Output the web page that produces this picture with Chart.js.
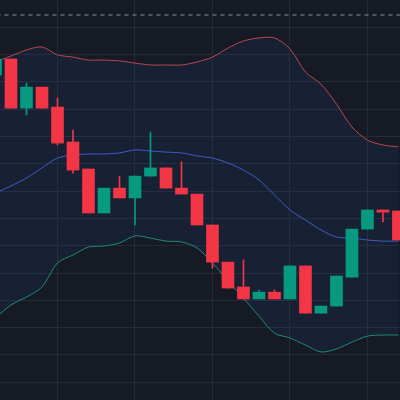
<!DOCTYPE html>
<html>
<head>
<meta charset="utf-8">
<script src="https://cdn.jsdelivr.net/npm/chart.js@4"></script>
<style>
  html, body { margin: 0; padding: 0; background: #161a25; }
  #wrap { width: 400px; height: 400px; }
</style>
</head>
<body>
<div id="wrap"><canvas id="chart"></canvas></div>
<script>
// candle values, one per bar
const opens  = [212.5, 218.4, 200.4, 208.1, 200.8, 188.0, 178.1, 162.0, 171.1, 167.5, 175.5, 178.5, 171.1, 168.9, 157.6, 144.0, 134.9, 130.5, 133.0, 130.5, 142.6, 125.3, 127.9, 138.5, 156.1, 163.1, 162.7]
const highs  = [218.4, 218.4, 209.6, 208.1, 204.1, 192.4, 178.1, 171.1, 175.5, 175.5, 191.6, 178.5, 180.7, 168.9, 157.6, 144.0, 144.8, 133.8, 133.8, 142.6, 142.6, 127.9, 138.9, 156.1, 163.1, 163.1, 162.7]
const lows   = [212.5, 200.4, 197.9, 200.4, 186.9, 176.6, 162.0, 162.0, 167.5, 157.6, 175.5, 171.1, 168.9, 157.6, 141.8, 134.5, 130.5, 130.5, 130.5, 130.5, 125.3, 125.3, 127.9, 138.5, 156.1, 158.7, 152.1]
const closes = [218.4, 200.4, 208.1, 200.4, 187.6, 177.7, 162.0, 171.1, 167.5, 175.5, 178.5, 171.1, 168.9, 157.6, 144.0, 134.5, 130.5, 133.0, 130.5, 142.6, 125.3, 127.9, 138.9, 156.1, 163.1, 162.3, 152.1]

// bollinger bands
const upperBand = [217.3, 219.5, 221.7, 222.8, 219.9, 219.1, 218.0, 218.0, 217.7, 216.9, 216.2, 216.2, 216.2, 217.3, 219.1, 222.4, 225.0, 226.1, 226.1, 222.1, 213.6, 209.2, 201.9, 193.5, 188.7, 186.9, 186.2]
const midBand   = [169.3, 171.9, 174.8, 178.5, 182.1, 183.2, 183.6, 183.6, 184.0, 185.1, 184.7, 184.3, 184.0, 182.9, 182.1, 180.3, 177.7, 174.1, 168.6, 163.1, 159.4, 155.8, 153.2, 152.8, 152.1, 151.7, 151.7]
const lowerBand = [123.5, 128.3, 131.2, 134.9, 143.7, 146.6, 149.5, 149.9, 151.0, 153.6, 152.8, 151.7, 151.4, 149.2, 143.7, 137.1, 130.8, 124.2, 118.0, 116.2, 113.6, 111.1, 112.2, 114.7, 116.9, 117.3, 117.3]

const lastPrice = 234.5
const gridX = [4, 9, 14, 19, 24]
const gridY = [230, 220, 210, 200, 190, 180, 170, 160, 150, 140, 130, 120, 110, 100]

const up = "#089981"
const down = "#f23645"
const colors = opens.map((o, i) => closes[i] >= o ? up : down)

const bodies = opens.map((o, i) => ({x: i, y: [o, closes[i]]}))
const wicks = opens.map((o, i) => ({x: i, y: [lows[i], highs[i]]}))
const toXY = arr => arr.map((v, i) => ({x: i, y: v}))

const bgPlugin = {
    id: "bg",
    beforeDraw(chart) {
        const ctx = chart.ctx
        ctx.save()
        ctx.fillStyle = "#161a25"
        ctx.fillRect(0, 0, chart.width, chart.height)
        ctx.restore()
    }
}

new Chart(document.getElementById("chart"), {
    data: {
        datasets: [
            {
                type: "line", data: toXY(upperBand), borderColor: "#b8474f", borderWidth: 1,
                pointRadius: 0, tension: 0.3, fill: "+2", backgroundColor: "rgba(40,70,130,0.16)", order: 5
            },
            {
                type: "line", data: toXY(midBand), borderColor: "#3d5fc4", borderWidth: 1,
                pointRadius: 0, tension: 0.3, fill: false, order: 4
            },
            {
                type: "line", data: toXY(lowerBand), borderColor: "#1f8a72", borderWidth: 1,
                pointRadius: 0, tension: 0.3, fill: false, order: 4
            },
            {
                type: "line", data: [{x: -2, y: lastPrice}, {x: 28, y: lastPrice}], borderColor: "#8a8f9c",
                borderWidth: 1, borderDash: [4, 4], pointRadius: 0, fill: false, order: 4
            },
            {
                type: "bar", data: wicks, backgroundColor: colors, barThickness: 1, grouped: false, order: 2
            },
            {
                type: "bar", data: bodies, backgroundColor: colors, barThickness: 12, grouped: false, order: 1
            }
        ]
    },
    options: {
        responsive: true,
        maintainAspectRatio: false,
        animation: false,
        layout: { padding: 0 },
        plugins: { legend: { display: false }, tooltip: { enabled: false } },
        scales: {
            x: {
                type: "linear", min: 0.29, max: 26.1, offset: false,
                ticks: { display: false }, border: { display: false },
                grid: { color: "#252a37", drawTicks: false, offset: false },
                afterBuildTicks: axis => { axis.ticks = gridX.map(v => ({value: v})) }
            },
            y: {
                min: 93.5, max: 240,
                ticks: { display: false }, border: { display: false },
                grid: { color: "#252a37", drawTicks: false },
                afterBuildTicks: axis => { axis.ticks = gridY.map(v => ({value: v})) }
            }
        }
    },
    plugins: [bgPlugin]
})
</script>
</body>
</html>
